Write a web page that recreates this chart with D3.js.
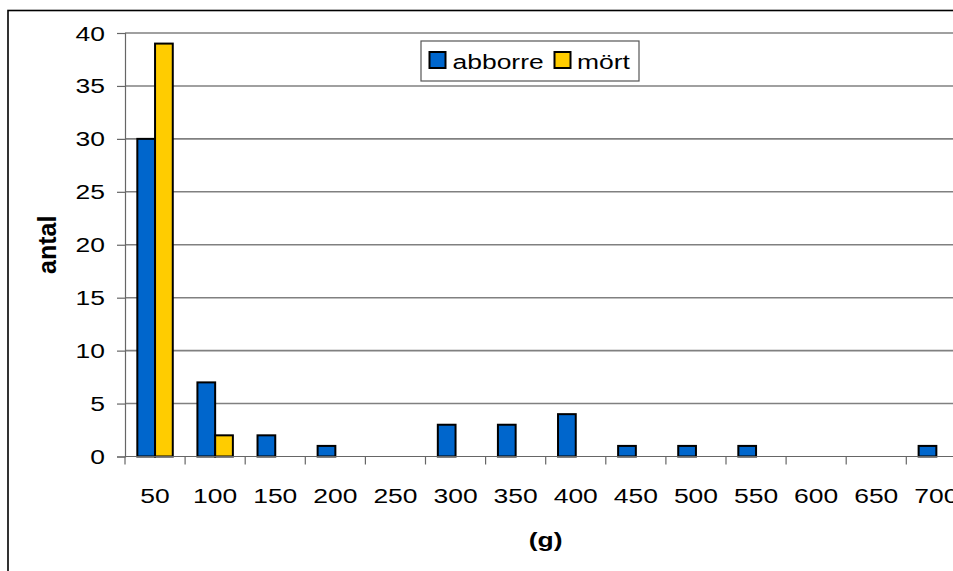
<!DOCTYPE html>
<html><head><meta charset="utf-8">
<script src="https://cdn.jsdelivr.net/npm/d3@7"></script>
<style>
html,body{margin:0;padding:0;background:#fff;overflow:hidden}
svg{display:block;font-family:"Liberation Sans",Arial,sans-serif}
</style></head>
<body>
<svg id="c" width="953" height="571"></svg>
<script>
const categories = ["50","100","150","200","250","300","350","400","450","500","550","600","650","700"];
const seriesNames = ["abborre","mört"];
const abborre = [30,7,2,1,0,3,3,4,1,1,1,0,0,1];
const mort = [39,2,0,0,0,0,0,0,0,0,0,0,0,0];
const yTicks = [0,5,10,15,20,25,30,35,40];
const colors = ["#0066CC","#FFCC00"];
const xTitle = "(g)";
const yTitle = "antal";

const svg = d3.select("#c");
const SX = 1.26; // horizontal text stretch seen in the original
const plot = {left:125, right:966.4, top:33, bottom:456.5};

// outer frame
svg.append("rect").attr("x",8).attr("y",10.5).attr("width",1000).attr("height",600)
  .attr("fill","none").attr("stroke","#000").attr("stroke-width",1.6);

const x0 = d3.scaleBand().domain(categories).range([plot.left, plot.right])
  .paddingInner(0.41).paddingOuter(0.205);
const x1 = d3.scaleBand().domain(seriesNames).range([0, x0.bandwidth()]);
const y = d3.scaleLinear().domain([0,40]).range([plot.bottom, plot.top]);
const step = x0.step();

// gridlines
svg.append("g").selectAll("line").data(yTicks.filter(d=>d>0)).join("line")
  .attr("x1",plot.left).attr("x2",plot.right)
  .attr("y1",d=>y(d)).attr("y2",d=>y(d))
  .attr("stroke","#808080").attr("stroke-width",1.6);

// y axis
const yAxis = svg.append("g").attr("transform",`translate(${plot.left},0)`)
  .call(d3.axisLeft(y).tickValues(yTicks).tickSize(8).tickFormat(d3.format("d")));
yAxis.select(".domain").attr("stroke","#666").attr("stroke-width",1.2);
yAxis.selectAll(".tick line").attr("stroke","#666").attr("stroke-width",1.2);
yAxis.selectAll(".tick text").remove();
svg.append("g").selectAll("text").data(yTicks).join("text")
  .attr("transform",d=>`translate(105,${y(d)+7.5}) scale(${SX},1)`)
  .attr("text-anchor","end").attr("font-size",21).attr("fill","#000")
  .text(d=>d);

// bars
const data = categories.map((c,i)=>({cat:c, vals:[abborre[i], mort[i]]}));
const g = svg.append("g").selectAll("g").data(data).join("g")
  .attr("transform",d=>`translate(${x0(d.cat)},0)`);
g.selectAll("rect").data(d=>d.vals.map((v,j)=>({s:seriesNames[j], v, j})).filter(e=>e.v>0))
  .join("rect")
  .attr("x",e=>x1(e.s)).attr("width",x1.bandwidth())
  .attr("y",e=>y(e.v)).attr("height",e=>y(0)-y(e.v))
  .attr("fill",e=>colors[e.j]).attr("stroke","#000").attr("stroke-width",2);

// x axis line and ticks (ticks at category boundaries)
svg.append("line").attr("x1",plot.left).attr("x2",plot.right)
  .attr("y1",plot.bottom).attr("y2",plot.bottom).attr("stroke","#666").attr("stroke-width",1.2);
const bounds = d3.range(categories.length+1).map(i=>plot.left + i*step);
svg.append("g").selectAll("line").data(bounds).join("line")
  .attr("x1",d=>d).attr("x2",d=>d).attr("y1",plot.bottom).attr("y2",plot.bottom+8)
  .attr("stroke","#666").attr("stroke-width",1.2);
svg.append("g").selectAll("text").data(categories).join("text")
  .attr("transform",d=>`translate(${x0(d)+x0.bandwidth()/2},503) scale(${SX},1)`)
  .attr("text-anchor","middle").attr("font-size",21).attr("fill","#000")
  .text(d=>d);

// axis titles
svg.append("text")
  .attr("transform",`translate(${(plot.left+plot.right)/2},547) scale(${SX},1)`)
  .attr("text-anchor","middle").attr("font-size",21).attr("font-weight","bold").text(xTitle);
svg.append("text")
  .attr("transform",`translate(56,${(plot.top+plot.bottom)/2}) rotate(-90)`)
  .attr("text-anchor","middle").attr("font-size",25).attr("font-weight","bold").text(yTitle);

// legend
const leg = svg.append("g");
leg.append("rect").attr("x",421).attr("y",41).attr("width",218).attr("height",40)
  .attr("fill","#fff").attr("stroke","#555").attr("stroke-width",1.2);
const legX = [429.5, 554.5];
const legTX = [452.5, 577];
seriesNames.forEach((s,i)=>{
  leg.append("rect").attr("x",legX[i]).attr("y",52).attr("width",16).attr("height",16)
    .attr("fill",colors[i]).attr("stroke","#000").attr("stroke-width",2);
  leg.append("text").attr("transform",`translate(${legTX[i]},69) scale(${SX},1)`)
    .attr("font-size",21).attr("fill","#000").text(s);
});
</script>
</body></html>
